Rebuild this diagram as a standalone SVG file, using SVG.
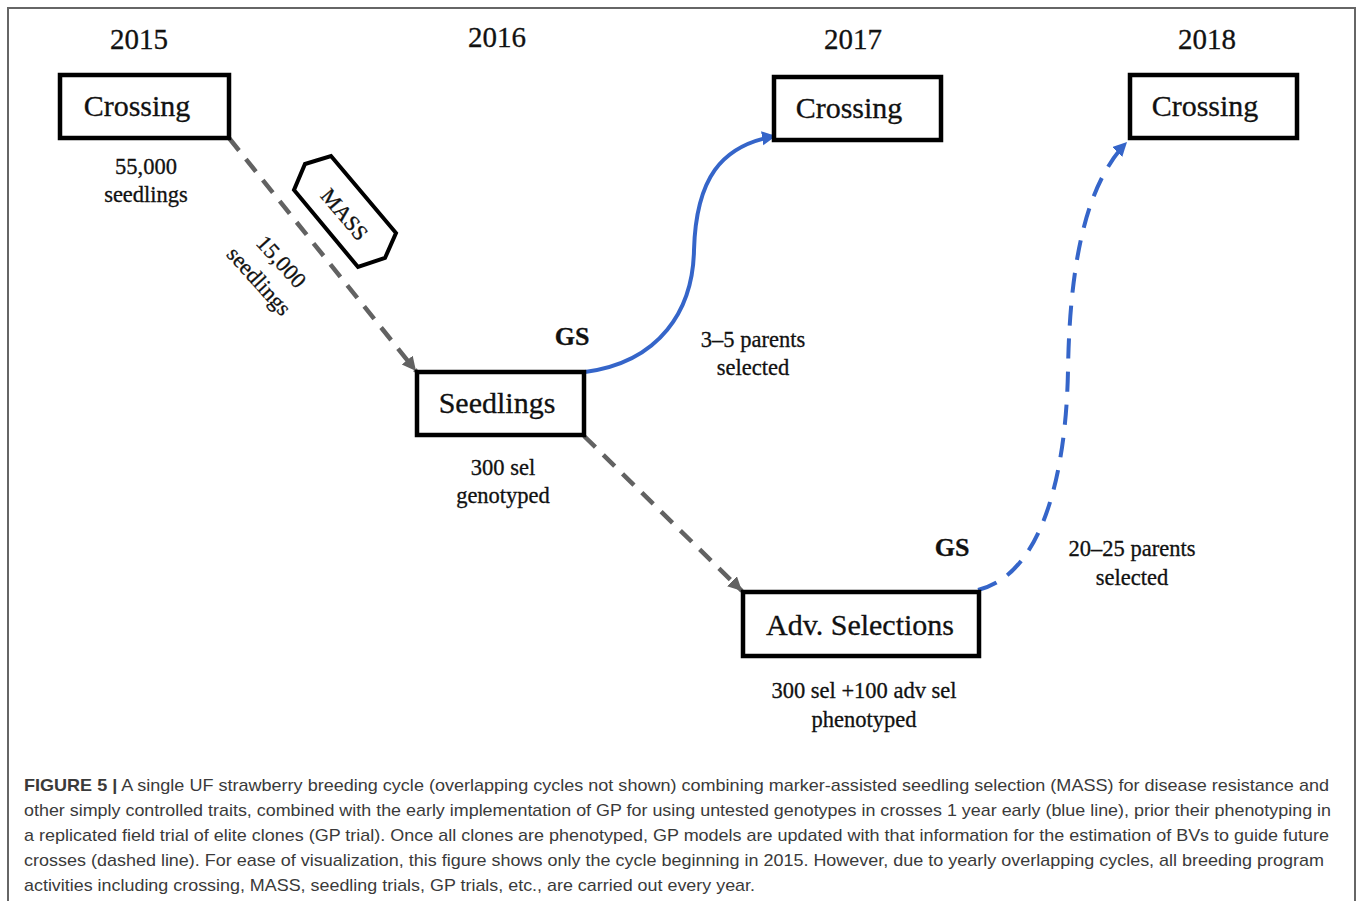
<svg xmlns="http://www.w3.org/2000/svg" width="1357" height="901" viewBox="0 0 1357 901">
<style>
.box{fill:#fff;stroke:#000;stroke-width:4.5}
.lbl{font-family:"Liberation Serif","Times New Roman",serif;fill:#111;stroke:#111;stroke-width:0.3;text-anchor:middle}
.big{font-size:30px}
.yr{font-size:29px}
.sm{font-size:22.5px}
.gs{font-size:26px;font-weight:bold}
.gray{fill:none;stroke:#626262;stroke-width:4.5;stroke-dasharray:16 11}
.blue{fill:none;stroke:#3565c9;stroke-width:4}
.bluedash{fill:none;stroke:#3565c9;stroke-width:4;stroke-dasharray:20 13}
.cap{font-family:"Liberation Sans",Arial,sans-serif;font-size:17px;fill:#3a3a3a}
</style>
<defs>
<marker id="ag" markerUnits="userSpaceOnUse" markerWidth="16" markerHeight="16" refX="14" refY="7" orient="auto">
<path d="M0,0 L14,7 L0,14 z" fill="#626262"/>
</marker>
<marker id="ab" markerUnits="userSpaceOnUse" markerWidth="16" markerHeight="16" refX="14" refY="7" orient="auto">
<path d="M0,0 L14,7 L0,14 z" fill="#3565c9"/>
</marker>
</defs>
<rect x="0" y="0" width="1357" height="901" fill="#fff"/>
<rect x="8" y="8" width="1347" height="920" fill="none" stroke="#666" stroke-width="2"/>

<g id="years">
<text class="lbl yr" x="139" y="49">2015</text>
<text class="lbl yr" x="497" y="47">2016</text>
<text class="lbl yr" x="853" y="49">2017</text>
<text class="lbl yr" x="1207" y="49">2018</text>
</g>

<g id="connectors">
<path class="gray" d="M229,138 L416,371" marker-end="url(#ag)"/>
<path class="gray" d="M584,436 L742,591" marker-end="url(#ag)"/>
<path class="blue" d="M585,372 C660,362 693,310 694,250 C696,180 720,145 776,136" marker-end="url(#ab)"/>
<path class="bluedash" d="M978,590 C1040,575 1066,480 1068,370 C1070,250 1090,180 1127,142" marker-end="url(#ab)"/>
</g>

<g id="crossing2015">
<rect class="box" x="60" y="75" width="169" height="63"/>
<text class="lbl big" x="137" y="116">Crossing</text>
<text class="lbl sm" x="146" y="174">55,000</text>
<text class="lbl sm" x="146" y="202">seedlings</text>
</g>

<g id="mass">
<polygon points="305,164 331,156 396,233 385,258 358,267 294,190" fill="#fff" stroke="#000" stroke-width="4" stroke-linejoin="miter"/>
<text class="lbl" font-size="22" transform="translate(345,214) rotate(50)" y="8">MASS</text>
</g>

<g id="mass-label">
<text class="lbl sm" transform="translate(281,262) rotate(48)" y="7">15,000</text>
<text class="lbl sm" transform="translate(258,282) rotate(48)" y="6">seedlings</text>
</g>

<g id="seedlings">
<rect class="box" x="417" y="372" width="167" height="63"/>
<text class="lbl big" x="497" y="413">Seedlings</text>
<text class="lbl gs" x="572" y="345">GS</text>
<text class="lbl sm" x="503" y="475">300 sel</text>
<text class="lbl sm" x="503" y="503">genotyped</text>
<text class="lbl sm" x="753" y="347">3–5 parents</text>
<text class="lbl sm" x="753" y="375">selected</text>
</g>

<g id="crossing2017">
<rect class="box" x="774" y="77" width="167" height="63"/>
<text class="lbl big" x="849" y="118">Crossing</text>
</g>

<g id="crossing2018">
<rect class="box" x="1130" y="75" width="167" height="63"/>
<text class="lbl big" x="1205" y="116">Crossing</text>
</g>

<g id="advsel">
<rect class="box" x="743" y="592" width="236" height="64"/>
<text class="lbl big" x="860" y="635">Adv. Selections</text>
<text class="lbl gs" x="952" y="556">GS</text>
<text class="lbl sm" x="1132" y="556">20–25 parents</text>
<text class="lbl sm" x="1132" y="585">selected</text>
<text class="lbl sm" x="864" y="698">300 sel +100 adv sel</text>
<text class="lbl sm" x="864" y="727">phenotyped</text>
</g>

<g id="caption">
<text class="cap" x="24" y="791" textLength="1305" lengthAdjust="spacingAndGlyphs"><tspan font-weight="bold">FIGURE 5 |</tspan> A single UF strawberry breeding cycle (overlapping cycles not shown) combining marker-assisted seedling selection (MASS) for disease resistance and</text>
<text class="cap" x="24" y="816" textLength="1307" lengthAdjust="spacingAndGlyphs">other simply controlled traits, combined with the early implementation of GP for using untested genotypes in crosses 1 year early (blue line), prior their phenotyping in</text>
<text class="cap" x="24" y="841" textLength="1305" lengthAdjust="spacingAndGlyphs">a replicated field trial of elite clones (GP trial). Once all clones are phenotyped, GP models are updated with that information for the estimation of BVs to guide future</text>
<text class="cap" x="24" y="866" textLength="1300" lengthAdjust="spacingAndGlyphs">crosses (dashed line). For ease of visualization, this figure shows only the cycle beginning in 2015. However, due to yearly overlapping cycles, all breeding program</text>
<text class="cap" x="24" y="891" textLength="731" lengthAdjust="spacingAndGlyphs">activities including crossing, MASS, seedling trials, GP trials, etc., are carried out every year.</text>
</g>
</svg>
